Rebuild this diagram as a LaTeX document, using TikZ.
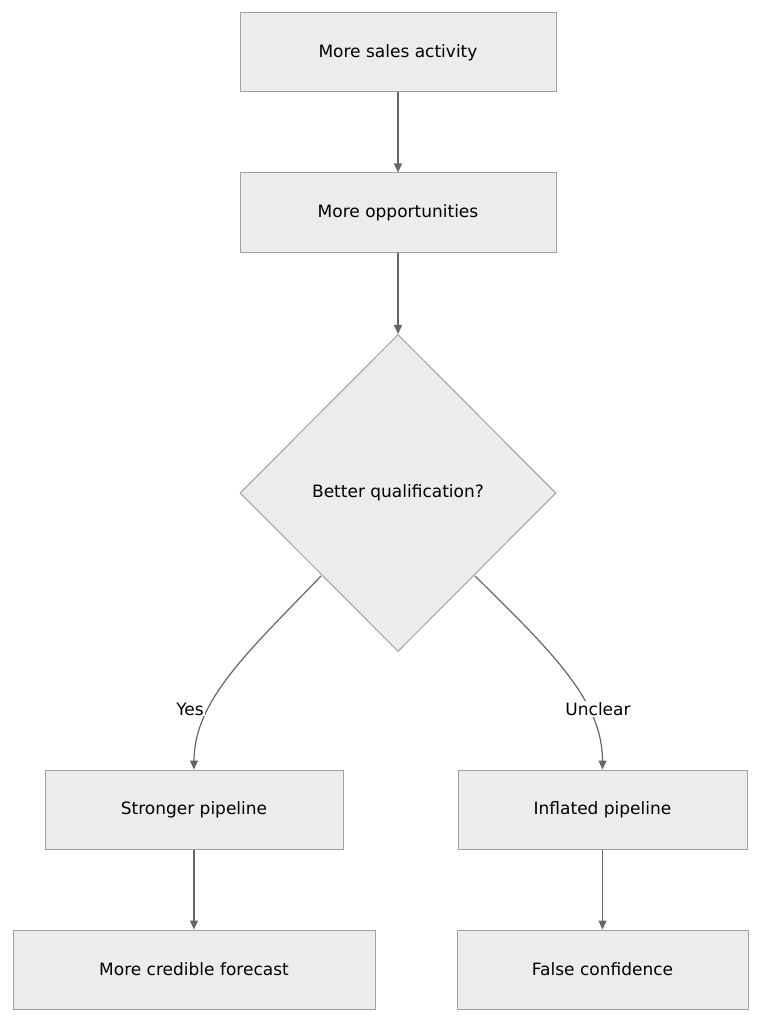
\documentclass[tikz,border=0pt]{standalone}
\usepackage{fontspec}
\setmainfont{DejaVu Sans}
\usetikzlibrary{shapes.geometric,arrows.meta}
\definecolor{boxfill}{HTML}{ECECEC}
\definecolor{boxline}{HTML}{A0A0A0}
\definecolor{edge}{HTML}{666666}
\begin{document}
\begin{tikzpicture}[x=1pt,y=-1pt,
                    box/.style={draw=boxline,fill=boxfill,line width=1pt,minimum height=79pt,font=\fontsize{17}{20}\selectfont},
                    choice/.style={diamond,draw=boxline,fill=boxfill,line width=1pt,minimum width=316pt,minimum height=317pt,inner sep=0pt,font=\fontsize{17}{20}\selectfont},
                    flow/.style={-{Triangle[length=9pt,width=8pt]},draw=edge,line width=1.2pt},
                    tag/.style={font=\fontsize{17}{20}\selectfont}]
  \path[use as bounding box] (0,0) rectangle (762,1024);

  \node[box,minimum width=316pt] (sales) at (398,52.5) {More sales activity};
  \node[box,minimum width=316pt] (opps) at (398,212.5) {More opportunities};
  \node[choice] (qual) at (398,493) {Better qualification?};
  \node[box,minimum width=298pt] (strong) at (194,809.5) {Stronger pipeline};
  \node[box,minimum width=289pt] (inflated) at (602.5,809.5) {Inflated pipeline};
  \node[box,minimum width=362pt] (credible) at (194,969.5) {More credible forecast};
  \node[box,minimum width=291pt] (falsec) at (602.5,969.5) {False confidence};

  \draw[flow] (sales) -- (opps);
  \draw[flow] (opps) -- (qual);
  \draw[flow] (qual.south west) ++(0,0) (321,576) .. controls (250,650) and (194,700) .. (strong.north);
  \draw[flow] (475,576) .. controls (550,650) and (602.5,700) .. (inflated.north);
  \draw[flow] (strong) -- (credible);
  \draw[flow] (inflated) -- (falsec);

  \node[tag,fill=white,inner sep=1pt] (yes) at (190,709) {Yes};
  \node[tag,fill=white,inner sep=1pt] (unclear) at (598,709) {Unclear};
\end{tikzpicture}
\end{document}
